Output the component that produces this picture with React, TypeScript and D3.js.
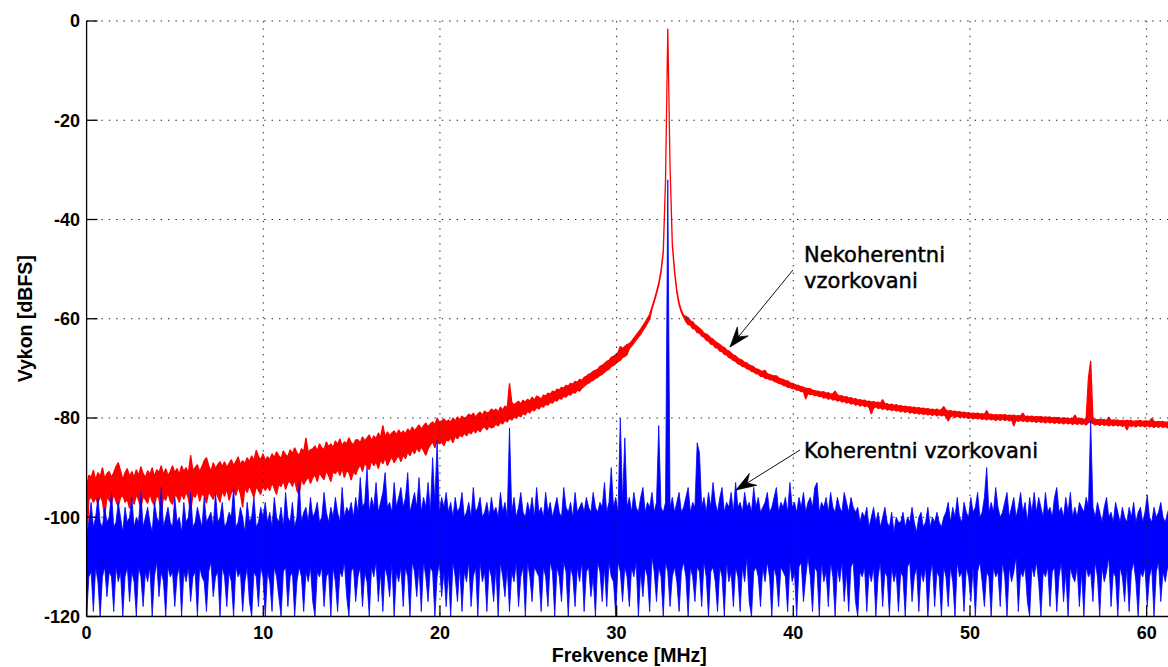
import React from 'react';
import * as d3 from 'd3';

// ---- axis extents / ticks ----
const NYQUIST_MHZ = 61.44;
const X_TICKS = [0, 10, 20, 30, 40, 50, 60];
const Y_TICKS = [-120, -100, -80, -60, -40, -20, 0];

// ---- non-coherent sampling (red): upper / lower trace envelope per FFT bin, 0 .. 61.44 MHz ----
const RED_TOP_DB = [
  -94, -91.5, -92, -90.5, -92.5, -91, -91.8, -90, -92.2, -91.2, -90.8, -92, -91, -89.8, -89, -90.6, -92.4, -91, -90.2, -91.8,
  -90.8, -92, -90.4, -91.6, -89.8, -91.2, -92, -90.6, -91.4, -90, -91.8, -90.4, -91, -89.6, -91.4, -90.2, -91.6, -90.8, -89.6, -91,
  -90.2, -91.4, -89.6, -90.8, -90, -91.2, -87.5, -90.6, -90, -89.4, -90.8, -89.8, -88.6, -88, -89.6, -90.8, -89, -90.2, -89.4, -88.8,
  -89.8, -88.8, -90, -89.2, -88.4, -89.6, -88.8, -87.8, -89.4, -88.6, -89.2, -88, -88.8, -87.6, -88.6, -86.5, -87.8, -88.4, -87.2, -88.6,
  -87.8, -88.4, -87.2, -88, -86.8, -87.6, -88.2, -86.6, -87.4, -87.8, -86.4, -87.2, -86, -87, -87.6, -86.2, -86.8, -84, -87, -86.4,
  -86.2, -85.6, -86.6, -85.2, -86, -86.4, -84.8, -85.8, -85.2, -86, -84.6, -85.4, -84.2, -85.6, -84.8, -85.2, -84, -85, -85.4, -84.4,
  -84.4, -85, -83.8, -84.6, -84, -83.4, -84.6, -83.6, -84.2, -83, -84, -81.5, -83.8, -82.8, -83.6, -83, -82.6, -83.4, -82.4, -83.2,
  -82.6, -83.2, -82.2, -82.8, -81.8, -82.6, -82, -81.4, -82.2, -81.6, -81, -81.8, -81.2, -80.8, -81.4, -80, -81, -80.6, -80.2, -80.8,
  -80.4, -80.8, -80, -80.6, -79.8, -80.4, -79.6, -80.2, -79.8, -79.2, -79.6, -79, -79.8, -79.2, -78.8, -79.4, -78.6, -79, -78.8, -78.2,
  -78.6, -78.2, -78.8, -77.8, -78.4, -77.6, -78, -73, -76.8, -77.4, -77, -76.6, -77.2, -76.4, -76.8, -76.2, -76.6, -75.8, -76.4, -75.6,
  -75.8, -76.2, -75.4, -75.6, -75, -75.2, -74.6, -74.8, -74.2, -74.4, -73.8, -74, -73.4, -73.6, -73, -73.2, -72.6, -72.8, -72.2, -72.4,
  -71.8, -71.6, -71.2, -71, -70.6, -70.4, -70.2, -69.6, -69.4, -69, -68.6, -68.4, -67.8, -67.6, -67.2, -66.8, -65.6, -66, -65.6, -65.2,
  -65, -64.5, -63.9, -63.3, -62.7, -62.1, -61.4, -60.7, -59.9, -59.1,
  -57.6, -56.2, -54.6, -52.8, -50.3, -46.3, -32, -1.5, -29.5, -44.8, -50.3, -54.3, -56.8, -58.3, -59.3,
  -59.5, -59.8, -60.4, -60.6, -61.2, -61.5, -61.9, -62.3, -62.9, -63.1, -63.4, -63.9, -64.1, -64.6, -64.9, -65.2, -65.6, -65.8, -66.3, -66.5,
  -66.9, -67.3, -67.5, -67.9, -68.2, -68.4, -68.8, -68.9, -69.3, -69.5, -69.7, -70.1, -70.2, -70.5, -70.6, -70.4, -71.1, -71.2, -71.4, -71.5,
  -71.5, -71.9, -72.1, -72.2, -72.5, -72.5, -72.9, -73, -73.2, -73.4, -73.5, -73.7, -73.8, -74, -74.1, -74.1, -74.4, -74.5, -74.6, -74.7,
  -74.8, -74.7, -75, -74.9, -75.2, -75.1, -74.6, -75.3, -75.6, -75.5, -75.8, -75.7, -76, -75.9, -76.2, -76.1, -76.4, -76.3, -76.5, -76.4,
  -76.7, -76.6, -76.8, -76.7, -76.9, -76.8, -77.1, -76.3, -77.2, -77.1, -77.4, -77.2, -77.5, -77.3, -77.6, -77.5, -77.7, -77.6, -77.8, -77.7,
  -77.9, -77.8, -78, -77.9, -78.1, -78, -78.2, -78.1, -78.3, -78.2, -78.4, -78.2, -78.5, -78.3, -77.7, -78.4, -78.6, -78.5, -78.7, -78.6,
  -78.8, -78.7, -78.9, -78.8, -79, -78.9, -79.1, -79, -79.1, -79, -79.2, -79.1, -79.3, -78.5, -79.3, -79.2, -79.4, -79.3, -79.4, -79.3,
  -79.4, -79.3, -79.5, -79.4, -79.5, -79.4, -79.6, -79.5, -79.6, -79, -79.7, -79.6, -79.7, -79.6, -79.8, -79.7, -79.8, -79.7, -79.9, -79.8,
  -79.9, -79.8, -80, -79.9, -80, -79.9, -80.1, -80, -80.1, -80, -80.2, -80.1, -79.4, -80.1, -80.2, -80.1, -80.3, -80.2,
  -72, -68.5,
  -80.3, -80.2, -80.4, -80.3, -80.4, -80.3, -80.5, -79.8, -80.5, -80.4, -80.5, -80.4, -80.6, -80.5, -80.6, -80.5, -80.6, -80.5, -80.7, -80.6,
  -80.6, -80.5, -80.7, -80.6, -80.7, -80.6, -80.1, -80.7, -80.8, -80.7, -80.8, -80.7, -80.9, -80.8, -80.9, -80.8,
];

const RED_BOTTOM_DB = [
  -108, -96.5, -95.8, -97, -96, -97.4, -95.6, -96.8, -100, -95.8, -96.6, -97.2, -95.4, -96.8, -97.8, -96, -95.6, -97, -96.4, -98.2,
  -96, -97.4, -95.4, -96.6, -98, -95.8, -96.4, -97.2, -95.2, -96.8, -97.6, -95.6, -96.2, -99.5, -95.8, -96.6, -95, -96.8, -97.4, -95.6,
  -95.8, -97, -95.2, -96.4, -94.8, -96.2, -99, -95.4, -96, -94.6, -96.8, -95.2, -95.8, -97.2, -94.8, -95.6, -96.4, -94.6, -95.8, -97,
  -94.6, -95.8, -94.2, -96.6, -95, -94.4, -95.6, -93.8, -95.2, -98, -94, -95, -93.6, -94.8, -96, -93.8, -94.6, -95.4, -93.4, -94.6,
  -93.8, -94.6, -93, -94.2, -95.4, -93.2, -93.8, -92.6, -94.4, -93, -92.8, -93.8, -92.4, -94.6, -95.5, -92.2, -93.4, -92.6, -91.8, -93.2,
  -92, -91.4, -92.8, -91, -91.8, -92.4, -90.6, -91.6, -92.8, -90.8, -91.2, -90.4, -91.6, -90.2, -92, -90.6, -91, -92.5, -90.8, -91.4,
  -90.2, -89.4, -90.8, -89, -89.8, -90.4, -88.6, -89.6, -88.8, -90.2, -88.4, -89.2, -88, -89.6, -88.6, -87.8, -89, -88.2, -87.6, -88.8,
  -87.4, -88.2, -86.8, -87.6, -86.4, -87.2, -86, -86.8, -85.8, -86.6, -87.5, -86.2, -85.4, -84.8, -86, -84.6, -85.2, -84.8, -85.6, -84.4,
  -84.6, -84, -85, -83.6, -84.2, -83.4, -83.8, -83, -83.6, -82.8, -83.2, -82.4, -83, -82.2, -82.8, -82, -81.8, -82.4, -81.6, -82,
  -81.8, -81.2, -81.6, -80.8, -81.2, -80.4, -80.8, -80, -80.4, -79.8, -80, -79.4, -79.8, -79, -79.4, -78.6, -79, -78.2, -78.6, -77.8,
  -78.2, -77.6, -77.8, -77.2, -77.4, -76.8, -77, -76.4, -76.6, -76, -76.2, -75.6, -75.8, -75.2, -75.4, -74.8, -75, -74.4, -74.6, -74,
  -73.6, -73.2, -73, -72.6, -72.4, -72, -71.8, -71.4, -71.2, -70.8, -70.4, -70.2, -69.6, -69.4, -69, -68.6, -68.4, -67.8, -67.6, -67.2,
  -66, -65.5, -64.9, -64.3, -63.7, -63.1, -62.4, -61.7, -60.9, -60.1,
  -58, -56.6, -55, -53.2, -50.7, -46.7, -32, -1.5, -29.5, -45.2, -50.7, -54.7, -57.2, -58.7, -59.7,
  -60.6, -61.2, -61.3, -62, -62.1, -62.8, -62.9, -63.5, -63.7, -64.3, -64.5, -65.1, -65.2, -65.8, -65.9, -66.5, -66.6, -67.2, -67.3, -67.8,
  -68, -68.4, -68.6, -69.1, -69.2, -69.6, -69.7, -70.1, -70.2, -70.6, -70.7, -71.1, -71.1, -71.6, -71.6, -72, -72, -72.3, -72.3, -72.6,
  -72.8, -73, -73.1, -73.4, -73.5, -73.8, -73.8, -74.1, -74.1, -74.4, -74.4, -74.7, -74.7, -76.2, -75, -75.3, -75.2, -75.5, -75.4, -75.7,
  -75.6, -76, -75.8, -76.2, -76, -76.4, -76.2, -76.6, -76.4, -76.8, -76.6, -77, -76.8, -77.2, -77, -77.4, -77.2, -77.6, -77.3, -77.7,
  -77.5, -77.9, -79.2, -78, -77.7, -78.1, -77.9, -78.3, -78, -78.4, -78.2, -78.5, -78.3, -78.6, -78.4, -78.8, -78.5, -78.9, -78.6, -79,
  -78.8, -79.1, -78.9, -79.2, -79, -79.3, -79.1, -79.4, -79.2, -79.5, -79.2, -79.6, -79.3, -79.6, -79.4, -79.7, -80.6, -79.8, -79.5, -79.9,
  -79.6, -79.9, -79.7, -80, -79.8, -80.1, -79.9, -80.2, -79.9, -80.2, -80, -80.3, -80.1, -80.4, -80.1, -80.4, -80.2, -80.5, -80.2, -80.5,
  -80.2, -80.5, -80.3, -80.6, -80.3, -81.6, -80.4, -80.7, -80.4, -80.7, -80.5, -80.8, -80.5, -80.8, -80.6, -80.9, -80.6, -80.9, -80.7, -81,
  -80.7, -81, -80.8, -81.1, -80.8, -81.1, -80.9, -81.2, -80.9, -81.2, -81, -81.3, -81, -81.3, -81, -81.3, -81.1, -81.4,
  -80.9, -80.9,
  -81.1, -81.4, -81.2, -81.5, -81.2, -81.5, -81.3, -81.6, -81.3, -81.6, -81.3, -81.6, -81.4, -81.7, -81.4, -82.4, -81.4, -81.7, -81.5, -81.8,
  -81.4, -81.7, -81.5, -81.8, -81.5, -81.8, -81.6, -81.9, -81.6, -81.9, -81.6, -81.9, -81.7, -82, -81.7, -82,
];

// ---- coherent sampling (blue): upper / lower trace envelope per FFT bin, 0 .. 61.44 MHz ----
const BLUE_TOP_DB = [
  -104, -101, -97, -102, -100, -96, -101, -102, -98, -101, -100, -95, -102, -101, -97, -100, -103, -98, -101, -100,
  -96, -102, -100, -101, -95, -102, -100, -98, -101, -103, -97, -100, -101, -94, -102, -100, -98, -101, -102, -96,
  -101, -100, -103, -97, -101, -100, -95, -102, -101, -98, -100, -102, -96, -101, -100, -99, -102, -95, -101, -100,
  -97, -102, -101, -99, -100, -94, -102, -101, -98, -100, -103, -97, -101, -100, -96, -102, -101, -98, -100, -97,
  -101, -99, -102, -96, -100, -101, -98, -102, -95, -100, -101, -97, -102, -100, -93, -101, -99, -98, -101, -96,
  -100, -99, -97, -101, -100, -95, -99, -101, -98, -100, -96, -99, -101, -94, -100, -98, -99, -97, -100, -96,
  -99, -92, -98, -97, -90, -99, -96, -98, -93, -99, -97, -95, -91, -98, -97, -99, -93, -98, -96, -94,
  -98, -96, -91, -99, -97, -95, -98, -92, -99, -96, -98, -93, -99, -88, -97, -84.5, -99, -96, -98, -95,
  -99, -97, -100, -96, -99, -98, -95, -100, -99, -97, -100, -94, -99, -98, -96, -100, -99, -97, -100, -96,
  -99, -98, -100, -95, -99, -97, -100, -82, -99, -96, -100, -98, -95, -99, -100, -97, -99, -96, -100, -94,
  -99, -98, -100, -95, -99, -97, -100, -98, -96, -99, -100, -94, -98, -99, -97, -100, -95, -99, -98, -97,
  -99, -96, -98, -99, -95, -98, -99, -97, -98, -93, -99, -97, -90, -98, -96, -99, -80, -97, -84, -98,
  -96, -99, -95, -98, -99, -96, -94, -99, -97, -98, -95, -99, -97, -81.5, -98, -99, -97, -32, -98, -96,
  -99, -97, -95, -99, -98, -96, -94, -99, -97, -98, -85, -87, -98, -96, -99, -95, -98, -93, -97, -99,
  -96, -94, -99, -97, -98, -95, -99, -93, -98, -97, -99, -95, -98, -97, -99, -94, -98, -96, -99, -98,
  -97, -95, -99, -98, -96, -94, -99, -97, -98, -96, -99, -93, -98, -97, -99, -96, -98, -95, -99, -97,
  -96, -98, -94, -93, -99, -97, -98, -96, -99, -95, -98, -99, -96, -98, -99, -95, -97, -99, -96, -98,
  -99, -98, -101, -99, -100, -98, -102, -100, -98, -101, -99, -102, -100, -98, -101, -102, -99, -103, -100, -101,
  -101, -99, -102, -100, -101, -98, -101, -103, -100, -99, -102, -101, -98, -102, -100, -101, -99, -101, -102, -100,
  -99, -97, -101, -98, -100, -96, -100, -101, -97, -99, -100, -96, -99, -98, -95, -100, -99, -96, -90, -99,
  -97, -99, -94, -98, -100, -99, -97, -95, -100, -98, -96, -100, -98, -95, -99, -97, -101, -96, -99, -95,
  -99, -96, -98, -100, -95, -99, -98, -100, -96, -94, -99, -98, -100, -96, -99, -95, -100, -98, -100, -97,
  -98, -99, -96, -98, -80.5, -98, -100, -97, -99, -101, -98, -96, -100, -99, -101, -97, -99, -101, -98, -100,
  -101, -98, -100, -97, -101, -99, -98, -101, -99, -95.5, -100, -101, -98, -100, -99, -97, -100, -101, -99, -98, -101,
];

const BLUE_BOTTOM_DB = [
  -120, -112, -111, -119, -110, -113, -120, -112, -110, -116, -111, -112, -119, -110, -113, -111, -120, -112, -110, -117,
  -111, -113, -120, -110, -112, -118, -111, -113, -110, -120, -112, -109, -116, -111, -113, -120, -110, -112, -111, -118,
  -112, -110, -120, -111, -113, -110, -117, -112, -111, -120, -110, -112, -113, -119, -111, -109, -116, -112, -111, -120,
  -110, -112, -118, -111, -113, -120, -110, -112, -111, -119, -113, -110, -117, -120, -111, -112, -118, -110, -112, -120,
  -111, -113, -119, -110, -112, -116, -120, -111, -110, -118, -112, -111, -120, -113, -110, -112, -119, -111, -113, -110,
  -117, -120, -111, -112, -110, -118, -112, -111, -120, -110, -113, -119, -111, -112, -109, -116, -120, -111, -110, -117,
  -112, -110, -118, -111, -113, -120, -110, -112, -109, -117, -111, -119, -110, -112, -116, -109, -120, -111, -113, -110,
  -118, -110, -112, -120, -109, -111, -116, -110, -119, -109, -112, -117, -110, -111, -120, -112, -109, -116, -111, -118,
  -111, -120, -109, -112, -117, -110, -119, -111, -113, -109, -118, -112, -110, -120, -109, -113, -111, -119, -110, -112,
  -117, -110, -120, -109, -112, -116, -110, -119, -111, -113, -109, -118, -112, -110, -120, -109, -112, -117, -110, -111,
  -112, -119, -110, -112, -118, -109, -111, -120, -110, -112, -117, -109, -111, -120, -110, -112, -118, -110, -113, -109,
  -119, -111, -110, -116, -112, -120, -109, -111, -117, -110, -118, -109, -112, -113, -120, -109, -111, -117, -110, -112,
  -118, -110, -112, -109, -120, -111, -116, -110, -112, -119, -108, -111, -117, -110, -112, -120, -109, -111, -118, -112,
  -110, -113, -119, -111, -109, -112, -120, -110, -112, -117, -110, -111, -118, -109, -112, -120, -111, -110, -113, -119,
  -110, -112, -120, -109, -113, -111, -118, -110, -112, -119, -110, -113, -108, -117, -120, -111, -110, -112, -118, -110,
  -113, -109, -112, -120, -110, -112, -118, -110, -111, -112, -119, -109, -113, -111, -120, -110, -109, -117, -112, -108,
  -112, -119, -110, -111, -120, -109, -113, -111, -118, -109, -112, -120, -110, -113, -109, -117, -111, -119, -110, -109,
  -117, -120, -111, -112, -110, -119, -111, -113, -110, -120, -112, -109, -118, -111, -112, -120, -110, -113, -111, -119,
  -111, -112, -120, -110, -109, -117, -112, -110, -119, -111, -113, -110, -120, -112, -109, -118, -111, -112, -120, -110,
  -112, -118, -110, -113, -120, -109, -112, -111, -119, -110, -112, -117, -110, -120, -111, -109, -113, -118, -111, -112,
  -120, -110, -112, -111, -118, -109, -112, -120, -110, -113, -111, -108, -119, -111, -112, -110, -117, -120, -110, -112,
  -109, -113, -120, -111, -112, -110, -118, -111, -110, -119, -112, -109, -117, -111, -120, -110, -112, -113, -110, -118,
  -111, -120, -110, -112, -111, -117, -109, -112, -120, -110, -113, -111, -108, -118, -111, -112, -120, -110, -112, -117,
  -110, -119, -111, -109, -113, -120, -111, -112, -110, -118, -112, -110, -120, -111, -109, -117, -111, -113, -110, -112, -111,
];

// ---- annotations (data coordinates: MHz, dBFS) ----
const LABELS = [
  { lines: ['Nekoherentni', 'vzorkovani'], f: 40.61, db: -48.56 },
  { lines: ['Koherentni vzorkovani'], f: 40.61, db: -88.06 },
];
const ARROWS = [
  { from: [39.98, -50.18], to: [36.42, -65.69] },
  { from: [40.38, -86.45], to: [36.76, -94.5] },
];

const AXIS_FONT = '"Liberation Sans", Arial, Helvetica, sans-serif';
const NOTE_FONT = '"DejaVu Sans", Verdana, sans-serif';

export default function App() {
  const W = 1168;
  const H = 667;
  const x = d3.scaleLinear().domain([0, NYQUIST_MHZ]).range([86.6, 1172.1]);
  const y = d3.scaleLinear().domain([-120, 0]).range([616.5, 21]);
  const [x0, x1] = x.range();
  const [yb, yt] = y.range();

  const bandPath = (top: number[], bottom: number[]) => {
    const bin = NYQUIST_MHZ / (top.length - 1);
    return d3
      .area<number>()
      .x((_, i) => x(i * bin))
      .y0((_, i) => y(bottom[i] ?? top[i]))
      .y1((d) => y(d))(top) as string;
  };

  const arrowHead = (sx: number, sy: number, tx: number, ty: number) => {
    const dx = tx - sx;
    const dy = ty - sy;
    const len = Math.hypot(dx, dy);
    const ux = dx / len;
    const uy = dy / len;
    const px = -uy;
    const py = ux;
    const L = 20;
    const hw = 7;
    const notch = 13;
    const bx = tx - ux * L;
    const by = ty - uy * L;
    const nx = tx - ux * notch;
    const ny = ty - uy * notch;
    return `M${tx},${ty}L${bx + px * hw},${by + py * hw}L${nx},${ny}L${bx - px * hw},${by - py * hw}Z`;
  };

  const dots = '1.4 6';

  return (
    <svg
      width={W}
      height={H}
      viewBox={`0 0 ${W} ${H}`}
      style={{ position: 'absolute', left: 0, top: 0, background: '#fff', display: 'block' }}
    >
      <defs>
        <clipPath id="plotClip">
          <rect x={x0} y={0} width={x1 - x0 + 2} height={yb + 0.5} />
        </clipPath>
      </defs>
      <rect x={0} y={0} width={W} height={H} fill="#fff" />

      <g clipPath="url(#plotClip)">
        <path
          d={bandPath(RED_TOP_DB, RED_BOTTOM_DB)}
          fill="#ff0000"
          stroke="#ff0000"
          strokeWidth={1.3}
          strokeLinejoin="bevel"
        />
        <path
          d={bandPath(BLUE_TOP_DB, BLUE_BOTTOM_DB)}
          fill="#0000ff"
          stroke="#0000ff"
          strokeWidth={0.8}
          strokeLinejoin="bevel"
        />
      </g>

      {/* dotted grid */}
      <g stroke="#222" strokeWidth={1} strokeDasharray={dots} fill="none">
        {X_TICKS.filter((t) => t > 0).map((t) => (
          <line key={`gx${t}`} x1={x(t)} x2={x(t)} y1={yt} y2={yb} />
        ))}
        {Y_TICKS.filter((t) => t > -120).map((t) => (
          <line key={`gy${t}`} x1={x0} x2={x1} y1={y(t)} y2={y(t)} />
        ))}
      </g>

      {/* axes */}
      <g stroke="#000" strokeWidth={1.3} fill="none">
        <line x1={x0} x2={x0} y1={yt} y2={yb} />
        <line x1={x0} x2={x1} y1={yb} y2={yb} />
        {Y_TICKS.map((t) => (
          <line key={`ty${t}`} x1={x0} x2={x0 + 11} y1={y(t)} y2={y(t)} />
        ))}
        {X_TICKS.map((t) => (
          <line key={`tx${t}`} x1={x(t)} x2={x(t)} y1={yb} y2={yb - 11} />
        ))}
      </g>

      {/* tick labels */}
      <g fontFamily={AXIS_FONT} fontWeight="bold" fontSize={18} fill="#000">
        {Y_TICKS.map((t) => (
          <text key={`ly${t}`} x={80} y={y(t)} dy="0.36em" textAnchor="end">
            {t}
          </text>
        ))}
        {X_TICKS.map((t) => (
          <text key={`lx${t}`} x={x(t)} y={639} textAnchor="middle">
            {t}
          </text>
        ))}
      </g>

      {/* axis titles */}
      <g fontFamily={AXIS_FONT} fontWeight="bold" fontSize={19.5} fill="#000">
        <text x={(x0 + x1) / 2} y={662} textAnchor="middle">
          Frekvence [MHz]
        </text>
        <text transform={`translate(31.5, ${(yt + yb) / 2}) rotate(-90)`} textAnchor="middle">
          Vykon [dBFS]
        </text>
      </g>

      {/* annotations */}
      <g>
        {ARROWS.map((a, i) => {
          const sx = x(a.from[0]);
          const sy = y(a.from[1]);
          const tx = x(a.to[0]);
          const ty = y(a.to[1]);
          return (
            <g key={`ar${i}`}>
              <line x1={sx} y1={sy} x2={tx} y2={ty} stroke="#111" strokeWidth={1} />
              <path d={arrowHead(sx, sy, tx, ty)} fill="#000" stroke="#000" strokeWidth={0.8} strokeLinejoin="miter" />
            </g>
          );
        })}
        {LABELS.map((l, i) => (
          <text
            key={`lb${i}`}
            x={x(l.f)}
            y={y(l.db)}
            fontFamily={NOTE_FONT}
            fontSize={21}
            fill="#000"
            stroke="#000"
            strokeWidth={0.45}
          >
            {l.lines.map((s, j) => (
              <tspan key={j} x={x(l.f)} dy={j === 0 ? 0 : 26}>
                {s}
              </tspan>
            ))}
          </text>
        ))}
      </g>
    </svg>
  );
}
